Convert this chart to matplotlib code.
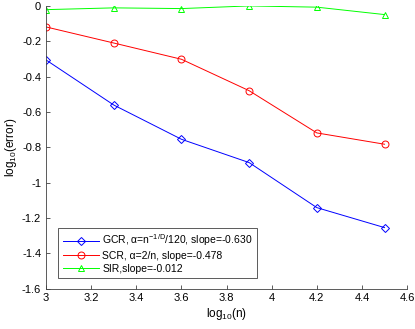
import matplotlib.pyplot as plt
import numpy as np

log_n = [3.0, 3.3, 3.6, 3.9, 4.2, 4.5]
gcr = [-0.306, -0.561, -0.755, -0.887, -1.142, -1.255]
scr = [-0.119, -0.210, -0.302, -0.480, -0.719, -0.783]
sir = [-0.021, -0.011, -0.015, 0.0, -0.007, -0.049]

labels = ['GCR, α=n$^{\\mathrm{-1/D}}$/120, slope=-0.630',
          'SCR, α=2/n, slope=-0.478',
          'SIR,slope=-0.012']

plt.rcParams['font.family'] = ['Liberation Sans', 'DejaVu Sans']
plt.rcParams['mathtext.fontset'] = 'custom'
plt.rcParams['mathtext.rm'] = 'Liberation Sans'
plt.rcParams['mathtext.it'] = 'Liberation Sans'

fig = plt.figure(figsize=(4.15, 3.29), dpi=100)
ax = fig.add_axes([0.111, 0.123, 0.870, 0.859])

ax.plot(log_n, gcr, color='#0000ff', lw=0.7, marker='D', ms=4.5, mfc='none', mew=0.7, label=labels[0])
ax.plot(log_n, scr, color='#ff0000', lw=0.7, marker='o', ms=5, mfc='none', mew=0.7, label=labels[1])
ax.plot(log_n, sir, color='#00ff00', lw=0.7, marker='^', ms=5, mfc='none', mew=0.7, label=labels[2])

ax.set_xlim(3, 4.6)
ax.set_ylim(-1.6, 0)
ax.set_xticks(np.arange(3, 4.61, 0.2))
ax.set_yticks(np.arange(-1.6, 0.01, 0.2))
ax.set_xticklabels(['3', '3.2', '3.4', '3.6', '3.8', '4', '4.2', '4.4', '4.6'])
ax.set_yticklabels(['-1.6', '-1.4', '-1.2', '-1', '-0.8', '-0.6', '-0.4', '-0.2', '0'])
ax.tick_params(direction='in', length=3, width=0.6, labelsize=8, color='#404040')
ax.spines['top'].set_visible(False)
ax.spines['right'].set_visible(False)
for s in ['left', 'bottom']:
    ax.spines[s].set_color('#404040')
    ax.spines[s].set_linewidth(0.6)

ax.set_xlabel(r'log$_{10}$(n)', fontsize=8.5, labelpad=2)
ax.set_ylabel(r'log$_{10}$(error)', fontsize=8.5, labelpad=2)

leg = ax.legend(loc='lower left', bbox_to_anchor=(0.02, 0.02), fontsize=7.5, handlelength=3.5,
                handletextpad=0.3, borderpad=0.4, labelspacing=0.25, fancybox=False,
                framealpha=1, edgecolor='#404040')
leg.get_frame().set_linewidth(0.6)

fig.savefig('out.png', dpi=100)
